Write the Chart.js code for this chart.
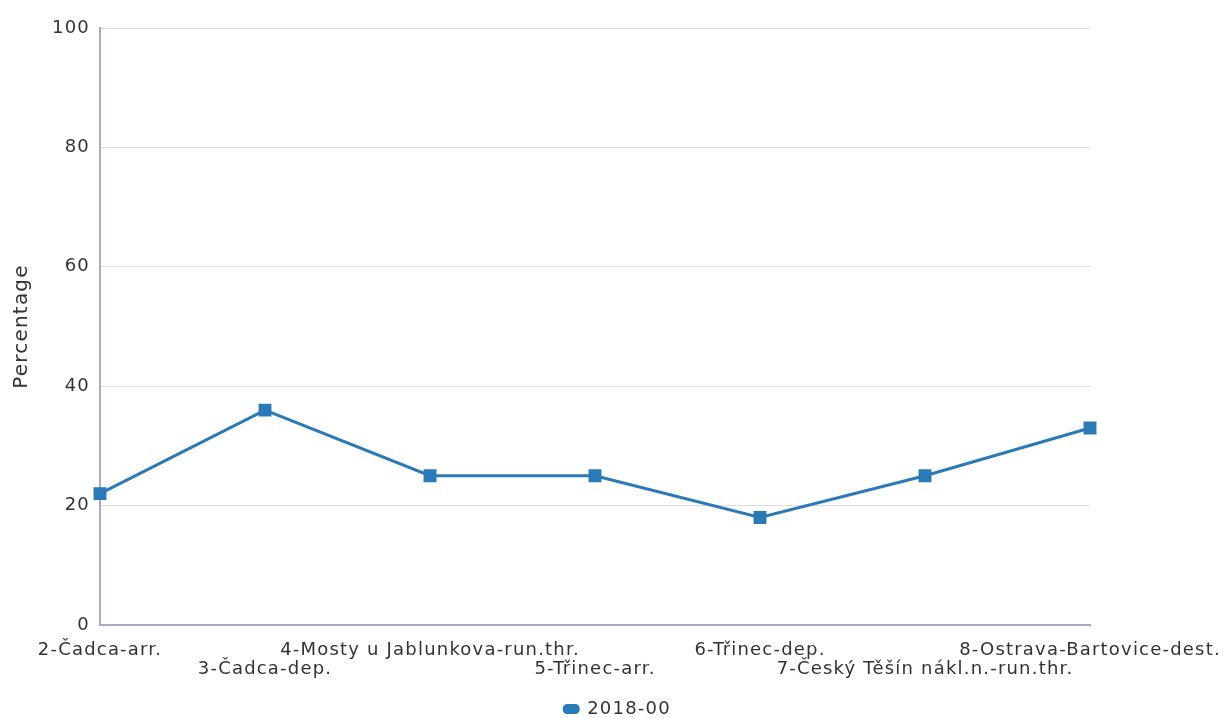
<!DOCTYPE html>
<html>
<head>
<meta charset="utf-8">
<script src="https://cdn.jsdelivr.net/npm/chart.js@4/dist/chart.umd.min.js"></script>
<style>
  html, body { margin: 0; padding: 0; background: #fff; }
  #wrap { width: 1225px; height: 718px; }
</style>
</head>
<body>
<div id="wrap"><canvas id="chart"></canvas></div>
<script>
var categories = [
    '2-Čadca-arr.',
    '3-Čadca-dep.',
    '4-Mosty u Jablunkova-run.thr.',
    '5-Třinec-arr.',
    '6-Třinec-dep.',
    '7-Český Těšín nákl.n.-run.thr.',
    '8-Ostrava-Bartovice-dest.'
];
var seriesName = '2018-00';
var seriesValues = [22, 36, 25, 25, 18, 25, 33];
var yTicks = [0, 20, 40, 60, 80, 100];

var lineColor = '#2a7ab8';

// every second label goes on the lower row
var tickLabels = categories.map(function (c, i) {
    return i % 2 === 0 ? [c, ''] : ['', c];
});

Chart.defaults.font.family = '"DejaVu Sans", sans-serif';
Chart.defaults.color = '#333';

// the original text is set a little wider than plain DejaVu
var spacingPlugin = {
    id: 'spacing',
    beforeUpdate: function (c) { c.ctx.letterSpacing = '1.2px'; },
    beforeDraw: function (c) { c.ctx.letterSpacing = '1.2px'; }
};

var ctx = document.getElementById('chart').getContext('2d');
var chart = new Chart(ctx, {
    type: 'line',
    data: {
        labels: tickLabels,
        datasets: [{
            label: seriesName,
            data: seriesValues,
            borderColor: lineColor,
            backgroundColor: lineColor,
            borderWidth: 3,
            pointStyle: 'rect',
            pointRadius: 7,
            pointHoverRadius: 7,
            tension: 0,
            fill: false
        }]
    },
    plugins: [spacingPlugin],
    options: {
        responsive: true,
        maintainAspectRatio: false,
        animation: false,
        layout: {
            padding: { left: 10, right: 0, top: 28, bottom: -10 }
        },
        scales: {
            x: {
                offset: false,
                afterFit: function (axis) {
                    axis.height = 74;
                    axis.paddingRight = 135;
                },
                grid: { display: false, drawTicks: false },
                border: { color: '#a8a8c8', width: 2 },
                ticks: {
                    autoSkip: false,
                    maxRotation: 0,
                    minRotation: 0,
                    padding: 15,
                    font: { size: 18, lineHeight: 1.1 },
                    color: '#333'
                }
            },
            y: {
                min: 0,
                max: 100,
                afterFit: function (axis) { axis.width = 90; },
                afterBuildTicks: function (axis) {
                    axis.ticks = yTicks.map(function (v) { return { value: v }; });
                },
                grid: { color: '#dcdce4', drawTicks: false },
                border: { color: '#a8a8c8', width: 2 },
                ticks: { padding: 10, font: { size: 18 }, color: '#333' },
                title: {
                    display: true,
                    text: 'Percentage',
                    font: { size: 20 },
                    color: '#333',
                    padding: { top: 0, bottom: 0 }
                }
            }
        },
        plugins: {
            legend: {
                position: 'bottom',
                labels: {
                    boxWidth: 14,
                    boxHeight: 7,
                    useBorderRadius: true,
                    borderRadius: 3,
                    font: { size: 18 },
                    color: '#333',
                    padding: 1
                }
            },
            tooltip: { enabled: false }
        }
    }
});
</script>
</body>
</html>
